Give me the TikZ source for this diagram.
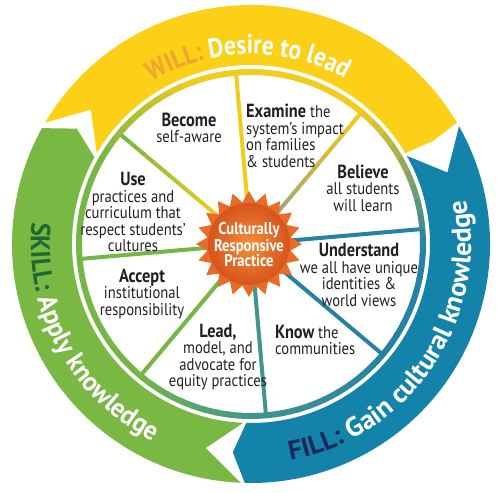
\documentclass[tikz,border=0pt]{standalone}
\usepackage{fontspec}
\setmainfont{PT Sans}[FakeStretch=0.86]
\newfontfamily\willfam{PT Sans}[FakeStretch=0.87]
\newfontfamily\skillfam{PT Sans}[FakeStretch=0.95]
\newfontfamily\fillfam{PT Sans}[FakeStretch=1.02]
\usetikzlibrary{decorations.text,shapes.geometric}
\definecolor{ringY}{RGB}{251,208,22}
\definecolor{ringG}{RGB}{120,184,67}
\definecolor{ringB}{RGB}{20,131,169}
\definecolor{willC}{RGB}{240,163,48}
\definecolor{skillC}{RGB}{30,104,52}
\definecolor{fillC}{RGB}{30,40,92}
\definecolor{bY}{RGB}{242,204,28}
\definecolor{bG}{RGB}{118,182,69}
\definecolor{bT}{RGB}{64,150,140}
\definecolor{bB}{RGB}{38,130,165}
\definecolor{bO}{RGB}{165,165,110}
\definecolor{sunSpike}{RGB}{232,108,40}
\definecolor{sunIn}{RGB}{244,142,58}
\definecolor{sunOut}{RGB}{214,84,28}
\definecolor{txt}{RGB}{35,31,32}
\newcommand\wfont{\willfam\bfseries\fontsize{27}{27}\selectfont}
\newcommand\sfont{\skillfam\bfseries\fontsize{27}{27}\selectfont}
\newcommand\ffont{\fillfam\bfseries\fontsize{27}{27}\selectfont}
\newcommand\innerfont{\fontsize{17}{16.5}\selectfont}
\newcommand\vb[1]{{\fontsize{19}{16.5}\selectfont\bfseries #1}}
\newcommand\ringarrow[6]{%
  \fill[#1] (#2:239) arc[start angle=#2, end angle=#3, radius=239]
    -- ({#3-#5}:209) -- (#3:179) arc[start angle=#3, end angle=#2, radius=179]
    -- ({#2-#4}:209) -- cycle;}
\begin{document}
\begin{tikzpicture}[x=1pt,y=1pt,
  itext/.style={text=txt, font=\innerfont, align=center, inner sep=0},
  ringlabel/.style={decorate, decoration={text along path, text align=center, text={#1}}}]
\useasboundingbox (0,0) rectangle (500,492);
\begin{scope}[shift={(251,248)}]
  % outer ring arrows
  \ringarrow{ringY}{149.5}{30.5}{9.5}{1}{}
  \ringarrow{ringB}{29.5}{-91.5}{9.5}{3.5}{}
  \ringarrow{ringG}{-92.5}{-209}{10}{4.5}{}
  % spokes
  \foreach \ang/\ci/\co in {95/bY/bY, 50/bO/bY, 5/bB/bB, -40/bB/bB, -85/bT/bT, -130/bG/bG, 185/bG/bG, 140/bY/bG}{
    \foreach \k in {0,...,11}{
      \pgfmathsetmacro\ra{40+\k*11}
      \pgfmathsetmacro\rb{\ra+11.5}
      \pgfmathtruncatemacro\p{100-\k*100/11}
      \draw[line width=4, color=\ci!\p!\co] (\ang:\ra) -- (\ang:\rb);
    }
  }
  % border circle
  \foreach \a/\b/\ca/\cb in {-130/-90/bG/bT, -90/-40/bT/bB, -40/0/bB/bB, 0/50/bB/bY, 50/110/bY/bY, 110/150/bY/bG, 150/230/bG/bG}{
    \foreach \k in {0,...,9}{
      \pgfmathsetmacro\sa{\a+(\b-\a)*\k/10}
      \pgfmathsetmacro\ea{\a+(\b-\a)*(\k+1)/10+0.5}
      \pgfmathtruncatemacro\p{100-\k*10-5}
      \draw[line width=6, color=\ca!\p!\cb] (\sa:172) arc[start angle=\sa, end angle=\ea, radius=172];
    }
  }
  % ring texts
  \path[ringlabel={|\wfont\color{willC}|WILL: |\wfont\color{white}|Desire to lead}]
    (166:190) arc[start angle=166, end angle=16, radius=190];
  \path[ringlabel={|\sfont\color{skillC}|SKILL: |\sfont\color{white}|Apply knowledge}]
    (140:220) arc[start angle=140, end angle=278, radius=220];
  \path[ringlabel={|\ffont\color{fillC}|FILL: |\ffont\color{white}|Gain cultural knowledge}]
    (-104:220) arc[start angle=-104, end angle=36, radius=220];
\end{scope}
% sun
\node[star, star points=20, star point ratio=1.26, minimum size=106, inner sep=0, fill=sunSpike] (sunstar) at (249,248) {};
\node[circle, minimum size=82, inner sep=0, shading=radial, inner color=sunIn, outer color=sunOut] (sunbody) at (249,248) {};
\node[text=white, font=\bfseries\fontsize{17}{15.5}\selectfont, align=center, inner sep=0] (suntext) at (249,247) {Culturally\\Responsive\\Practice};
% inner texts
\node[itext] (become) at (189,364) {\vb{Become}\\self-aware};
\node[itext, anchor=west, align=left] (examine) at (246,356) {\vb{Examine} the\\system’s impact\\on families\\\& students};
\node[itext] (believe) at (363,304) {\vb{Believe}\\all students\\will learn};
\node[itext] (understand) at (359,217) {\vb{Understand}\\we all have unique\\identities \&\\world views};
\node[itext, anchor=west, align=left] (know) at (275,152) {\vb{Know} the\\communities};
\node[itext] (lead) at (218,135) {\vb{Lead,}\\model, and\\advocate for\\equity practices};
\node[itext] (accept) at (142,198) {\vb{Accept}\\institutional\\responsibility};
\node[itext] (use) at (133,280) {\vb{Use}\\practices and\\curriculum that\\respect students’\\cultures};
\end{tikzpicture}
\end{document}
